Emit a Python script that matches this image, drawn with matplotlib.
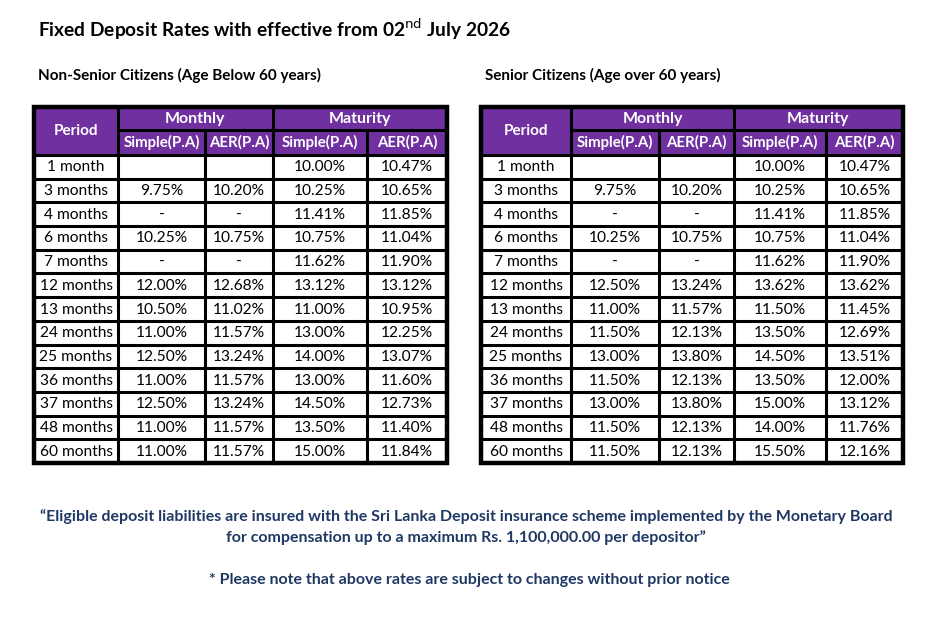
import matplotlib.pyplot as plt
from matplotlib.patches import Rectangle

periods = ["1 month","3 months","4 months","6 months","7 months","12 months","13 months",
           "24 months","25 months","36 months","37 months","48 months","60 months"]
ns_m_simple = ["","9.75%","-","10.25%","-","12.00%","10.50%","11.00%","12.50%","11.00%","12.50%","11.00%","11.00%"]
ns_m_aer = ["","10.20%","-","10.75%","-","12.68%","11.02%","11.57%","13.24%","11.57%","13.24%","11.57%","11.57%"]
ns_t_simple = ["10.00%","10.25%","11.41%","10.75%","11.62%","13.12%","11.00%","13.00%","14.00%","13.00%","14.50%","13.50%","15.00%"]
ns_t_aer = ["10.47%","10.65%","11.85%","11.04%","11.90%","13.12%","10.95%","12.25%","13.07%","11.60%","12.73%","11.40%","11.84%"]
s_m_simple = ["","9.75%","-","10.25%","-","12.50%","11.00%","11.50%","13.00%","11.50%","13.00%","11.50%","11.50%"]
s_m_aer = ["","10.20%","-","10.75%","-","13.24%","11.57%","12.13%","13.80%","12.13%","13.80%","12.13%","12.13%"]
s_t_simple = ["10.00%","10.25%","11.41%","10.75%","11.62%","13.62%","11.50%","13.50%","14.50%","13.50%","15.00%","14.00%","15.50%"]
s_t_aer = ["10.47%","10.65%","11.85%","11.04%","11.90%","13.62%","11.45%","12.69%","13.51%","12.00%","13.12%","11.76%","12.16%"]

plt.rcParams['font.family'] = ['Lato', 'DejaVu Sans']
PURPLE = "#7030A0"
NAVY = "#1F3864"

fig = plt.figure(figsize=(9.5, 6.17), dpi=100)
ax = fig.add_axes([0, 0, 1, 1])
ax.set_xlim(0, 950); ax.set_ylim(617, 0); ax.axis('off')

ax.text(38, 29, "Fixed Deposit Rates with effective from 02$^{\\mathrm{nd}}$ July 2026",
        fontsize=13.8, fontweight='bold', va='center', ha='left', color='black')

def draw_table(cols, title, cols_data):
    y0, yh1, yh2 = 107, 130, 155
    rh = (463 - 155) / 13
    ax.text(cols[0] + 4, 75, title, fontsize=11, fontweight='bold', va='center', ha='left')
    ax.add_patch(Rectangle((cols[0], y0), cols[-1] - cols[0], yh2 - y0, fc=PURPLE, ec='none'))
    lw_in = 2.2
    ax.text((cols[0] + cols[1]) / 2, (y0 + yh2) / 2, "Period", color='white', fontsize=11,
            fontweight='bold', ha='center', va='center')
    ax.text((cols[1] + cols[3]) / 2, (y0 + yh1) / 2, "Monthly", color='white', fontsize=11.5,
            fontweight='bold', ha='center', va='center')
    ax.text((cols[3] + cols[5]) / 2, (y0 + yh1) / 2, "Maturity", color='white', fontsize=11.5,
            fontweight='bold', ha='center', va='center')
    for i, lab in enumerate(["Simple(P.A)", "AER(P.A)", "Simple(P.A)", "AER(P.A)"]):
        ax.text((cols[i + 1] + cols[i + 2]) / 2, (yh1 + yh2) / 2, lab, color='white',
                fontsize=10.8, fontweight='bold', ha='center', va='center')
    for r in range(13):
        yc = yh2 + rh * (r + 0.5)
        for c, data in enumerate(cols_data):
            ax.text((cols[c] + cols[c + 1]) / 2, yc + 0.5, data[r], fontsize=11.2,
                    ha='center', va='center')
    k = dict(color='black', lw=lw_in, solid_capstyle='projecting')
    ax.plot([cols[1], cols[-1]], [yh1, yh1], **k)
    for r in range(14):
        y = yh2 + rh * r
        ax.plot([cols[0], cols[-1]], [y, y], **k)
    for i in range(1, 5):
        top = y0 if i == 1 or i == 3 else yh1
        ax.plot([cols[i], cols[i]], [top, 463], **k)
    ax.add_patch(Rectangle((cols[0], y0), cols[-1] - cols[0], 463 - y0, fc='none', ec='black', lw=3.2))

draw_table([34, 118, 205, 273, 367, 447], "Non-Senior Citizens (Age Below 60 years)",
           [periods, ns_m_simple, ns_m_aer, ns_t_simple, ns_t_aer])
draw_table([481, 571, 659, 734, 826, 903], "Senior Citizens (Age over 60 years)",
           [periods, s_m_simple, s_m_aer, s_t_simple, s_t_aer])

ax.text(466, 517, "\u201cEligible deposit liabilities are insured with the Sri Lanka Deposit insurance scheme implemented by the Monetary Board",
        fontsize=11.5, fontweight='bold', color=NAVY, ha='center', va='center')
ax.text(466, 538, "for compensation up to a maximum Rs. 1,100,000.00 per depositor\u201d",
        fontsize=11.5, fontweight='bold', color=NAVY, ha='center', va='center')
ax.text(469, 580, "* Please note that above rates are subject to changes without prior notice",
        fontsize=11.5, fontweight='bold', color=NAVY, ha='center', va='center')

fig.savefig("out.png", dpi=100, facecolor='white')
